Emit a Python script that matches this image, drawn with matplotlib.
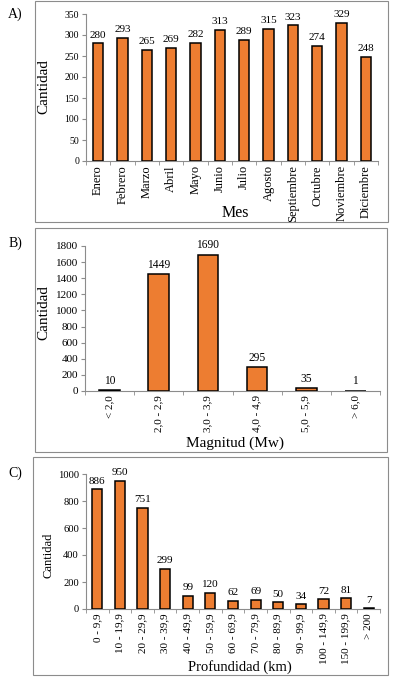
import matplotlib.pyplot as plt
from matplotlib.patches import Rectangle

plt.rcParams['font.family'] = ['Liberation Serif', 'DejaVu Serif']

# data
meses = ['Enero', 'Febrero', 'Marzo', 'Abril', 'Mayo', 'Junio', 'Julio',
         'Agosto', 'Septiembre', 'Octubre', 'Noviembre', 'Diciembre']
cant_mes = [280, 293, 265, 269, 282, 313, 289, 315, 323, 274, 329, 248]

magnitudes = ['< 2,0', '2,0 - 2,9', '3,0 - 3,9', '4,0 - 4,9', '5,0 - 5,9', '> 6,0']
cant_mag = [10, 1449, 1690, 295, 35, 1]

profundidades = ['0 - 9,9', '10 - 19,9', '20 - 29,9', '30 - 39,9', '40 - 49,9',
                 '50 - 59,9', '60 - 69,9', '70 - 79,9', '80 - 89,9', '90 - 99,9',
                 '100 - 149,9', '150 - 199,9', '> 200']
cant_prof = [886, 950, 751, 299, 99, 120, 62, 69, 50, 34, 72, 81, 7]

W, H = 395, 680
ORANGE = '#ED7D31'
GRAY = '#8c8c8c'

fig = plt.figure(figsize=(W / 100, H / 100), dpi=100)


def px_axes(x0, y0, x1, y1):
    # pixel box (top-left origin) -> figure axes
    return fig.add_axes([x0 / W, 1 - y1 / H, (x1 - x0) / W, (y1 - y0) / H])


def px_text(x, y, s, **kw):
    fig.text(x / W, 1 - y / H, s, ha='center', va='center', **kw)


def panel_box(x0, y0, x1, y1):
    fig.patches.append(Rectangle((x0 / W, 1 - y1 / H), (x1 - x0) / W, (y1 - y0) / H,
                                 transform=fig.transFigure, fill=False,
                                 edgecolor=GRAY, linewidth=0.8))


def bar_panel(ax, cats, vals, ymax, step, width, xfs=8, yfs=8, dfs=8):
    n = len(cats)
    xs = list(range(n))
    ax.bar(xs, vals, width=width, color=ORANGE, edgecolor='black', linewidth=1.1, zorder=3)
    for x, v in zip(xs, vals):
        ax.text(x, v + ymax * 0.025, str(v), ha='center', va='bottom', fontsize=dfs)
    ax.set_xlim(-0.5, n - 0.5)
    ax.set_ylim(0, ymax)
    ax.set_yticks(range(0, ymax + 1, step))
    ax.set_xticks(xs)
    ax.set_xticklabels(cats, rotation=90, fontsize=xfs)
    ax.set_xticks([i - 0.5 for i in range(n + 1)], minor=True)
    ax.tick_params(axis='x', which='major', length=0, pad=3)
    ax.tick_params(axis='x', which='minor', length=3, color=GRAY, direction='out')
    ax.tick_params(axis='y', labelsize=yfs, length=3, color=GRAY, pad=2)
    for s in ['top', 'right']:
        ax.spines[s].set_visible(False)
    for s in ['left', 'bottom']:
        ax.spines[s].set_color(GRAY)
        ax.spines[s].set_linewidth(0.8)


# A) por mes
panel_box(35, 1, 388, 222)
axA = px_axes(86, 14, 378, 161)
bar_panel(axA, meses, cant_mes, 350, 50, 0.42, xfs=9, yfs=7, dfs=8)
px_text(15, 14, 'A)', fontsize=10)
px_text(44, 87, 'Cantidad', fontsize=11, rotation=90)
px_text(235, 213, 'Mes', fontsize=11.5)

# B) por magnitud
panel_box(35, 228, 387, 452)
axB = px_axes(85, 246, 380, 391)
bar_panel(axB, magnitudes, cant_mag, 1800, 200, 0.42, xfs=8, yfs=8, dfs=8.3)
px_text(15, 243, 'B)', fontsize=10)
px_text(44, 313, 'Cantidad', fontsize=11, rotation=90)
px_text(235, 443, 'Magnitud (Mw)', fontsize=11)

# C) por profundidad
panel_box(33, 457, 388, 675)
axC = px_axes(86, 474, 380, 609)
bar_panel(axC, profundidades, cant_prof, 1000, 200, 0.45, xfs=8, yfs=7.6, dfs=8)
px_text(15, 473, 'C)', fontsize=10)
px_text(48, 555, 'Cantidad', fontsize=9, rotation=90)
px_text(240, 667, 'Profundidad (km)', fontsize=10.5)

fig.savefig('out.png', dpi=100)
